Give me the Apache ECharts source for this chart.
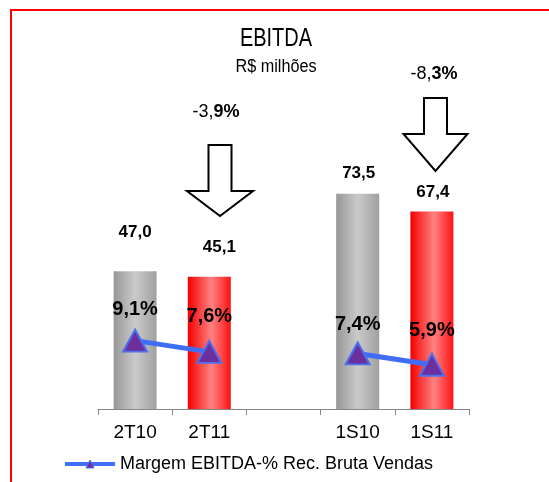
<!DOCTYPE html>
<html>
<head>
<meta charset="utf-8">
<title>EBITDA</title>
<script src="https://cdn.jsdelivr.net/npm/echarts@6/dist/echarts.min.js"></script>
<style>
  html, body { margin: 0; padding: 0; background: #ffffff; }
  #chart { width: 549px; height: 482px; }
</style>
</head>
<body>
<div id="chart"></div>
<script>
// Periods on the category axis (the blank slot separates quarters from semesters)
const categories = ['2T10', '2T11', '', '1S10', '1S11'];
// EBITDA, R$ millions
const ebitda = [47.0, 45.1, null, 73.5, 67.4];
// EBITDA margin, % of gross sales
const margem = [9.1, 7.6, null, 7.4, 5.9];
// Period-over-period variation shown above each pair
const variacao = [-3.9, -8.3];

const FONT = "'Liberation Sans', Arial, sans-serif";

// label placement tweaks per bar / per point
const barLabelGap = [30, 21, 0, 12, 11];
const barLabelShift = [0, 10, 0, 1, 1];
const lineLabelGap = [9, 13, 7, 12];

function fmt(v) {
  return v.toFixed(1).replace('.', ',');
}

const grayBar = new echarts.graphic.LinearGradient(0, 0, 1, 0, [
  { offset: 0, color: '#979797' },
  { offset: 0.5, color: '#cacaca' },
  { offset: 1, color: '#a0a0a0' }
]);
const redBar = new echarts.graphic.LinearGradient(0, 0, 1, 0, [
  { offset: 0, color: '#f40000' },
  { offset: 0.55, color: '#ff8282' },
  { offset: 1, color: '#ff1212' }
]);
const barFill = [grayBar, redBar, null, grayBar, redBar];

const barData = ebitda.map(function (v, i) {
  if (v == null) return '-';
  return {
    value: v,
    itemStyle: { color: barFill[i] },
    label: { distance: barLabelGap[i], offset: [barLabelShift[i], 0] }
  };
});

let k = 0;
const lineData = margem.map(function (v) {
  if (v == null) return '-';
  const item = { value: v, label: { distance: lineLabelGap[k] } };
  k++;
  return item;
});

function variationText(v) {
  const s = fmt(v);
  return '{r|' + s.slice(0, -1) + '}{b|' + s.slice(-1) + '%}';
}

function downArrow(cx, top, headTop, tip, shaftW, headW) {
  const s = shaftW / 2, h = headW / 2;
  return [
    [cx - s, top], [cx + s, top], [cx + s, headTop], [cx + h, headTop],
    [cx, tip], [cx - h, headTop], [cx - s, headTop]
  ];
}

const chart = echarts.init(document.getElementById('chart'), null, { renderer: 'canvas' });

chart.setOption({
  backgroundColor: '#ffffff',
  animation: false,
  textStyle: { fontFamily: FONT },
  grid: { left: 98, right: 80, top: 116, bottom: 73, containLabel: false },
  xAxis: {
    type: 'category',
    data: categories,
    axisLine: { show: true, lineStyle: { color: '#868686', width: 1 } },
    axisTick: { show: true, length: 6, interval: 0, lineStyle: { color: '#868686' } },
    axisLabel: { color: '#000000', fontSize: 19, fontFamily: FONT, margin: 14, interval: 0 },
    splitLine: { show: false }
  },
  yAxis: [
    { type: 'value', min: 0, max: 100, show: false, splitLine: { show: false } },
    { type: 'value', min: 0, max: 39, show: false, splitLine: { show: false } }
  ],
  legend: {
    left: 63,
    top: 455,
    padding: 0,
    itemWidth: 50,
    itemHeight: 10,
    itemGap: 10,
    textStyle: { color: '#000000', fontSize: 18, fontFamily: FONT },
    lineStyle: { width: 4 },
    itemStyle: { borderWidth: 1 },
    data: ['Margem EBITDA-% Rec. Bruta Vendas']
  },
  series: [
    {
      name: 'EBITDA',
      type: 'bar',
      yAxisIndex: 0,
      barWidth: 43,
      data: barData,
      label: {
        show: true,
        position: 'top',
        color: '#000000',
        fontSize: 17,
        fontWeight: 'bold',
        fontFamily: FONT,
        formatter: function (p) { return fmt(p.value); }
      },
      z: 2
    },
    {
      name: 'Margem EBITDA-% Rec. Bruta Vendas',
      type: 'line',
      yAxisIndex: 1,
      data: lineData,
      connectNulls: false,
      symbol: 'triangle',
      symbolSize: [24, 22],
      lineStyle: { color: '#3f6ef4', width: 5 },
      itemStyle: { color: '#6c2f9e', borderColor: '#4a70f0', borderWidth: 2 },
      label: {
        show: true,
        position: 'top',
        color: '#000000',
        fontSize: 20,
        fontWeight: 'bold',
        fontFamily: FONT,
        formatter: function (p) { return fmt(p.value) + '%'; }
      },
      z: 5
    }
  ],
  graphic: [
    {
      type: 'rect',
      shape: { x: 11, y: 10, width: 900, height: 900 },
      style: { fill: 'none', stroke: '#ff0000', lineWidth: 2 },
      silent: true
    },
    {
      type: 'text',
      x: 276, y: 39,
      scaleX: 0.8,
      style: {
        text: 'EBITDA', x: 0, y: 0, align: 'center', verticalAlign: 'middle',
        font: '25px ' + FONT, fill: '#000000'
      }
    },
    {
      type: 'text',
      x: 276, y: 67,
      scaleX: 0.9,
      style: {
        text: 'R$ milhões', x: 0, y: 0, align: 'center', verticalAlign: 'middle',
        font: '18px ' + FONT, fill: '#000000'
      }
    },
    {
      type: 'text',
      x: 216, y: 112,
      style: {
        text: variationText(variacao[0]), x: 0, y: 0, align: 'center', verticalAlign: 'middle',
        rich: {
          r: { fontSize: 18, fontFamily: FONT, color: '#000000' },
          b: { fontSize: 18, fontFamily: FONT, fontWeight: 'bold', color: '#000000' }
        }
      }
    },
    {
      type: 'text',
      x: 434, y: 74,
      style: {
        text: variationText(variacao[1]), x: 0, y: 0, align: 'center', verticalAlign: 'middle',
        rich: {
          r: { fontSize: 18, fontFamily: FONT, color: '#000000' },
          b: { fontSize: 18, fontFamily: FONT, fontWeight: 'bold', color: '#000000' }
        }
      }
    },
    {
      type: 'polygon',
      shape: { points: downArrow(220, 145, 191, 216, 23, 66) },
      style: { fill: '#ffffff', stroke: '#000000', lineWidth: 2 }
    },
    {
      type: 'polygon',
      shape: { points: downArrow(435.5, 98, 134, 171, 23, 64) },
      style: { fill: '#ffffff', stroke: '#000000', lineWidth: 2 }
    }
  ]
});
</script>
</body>
</html>
